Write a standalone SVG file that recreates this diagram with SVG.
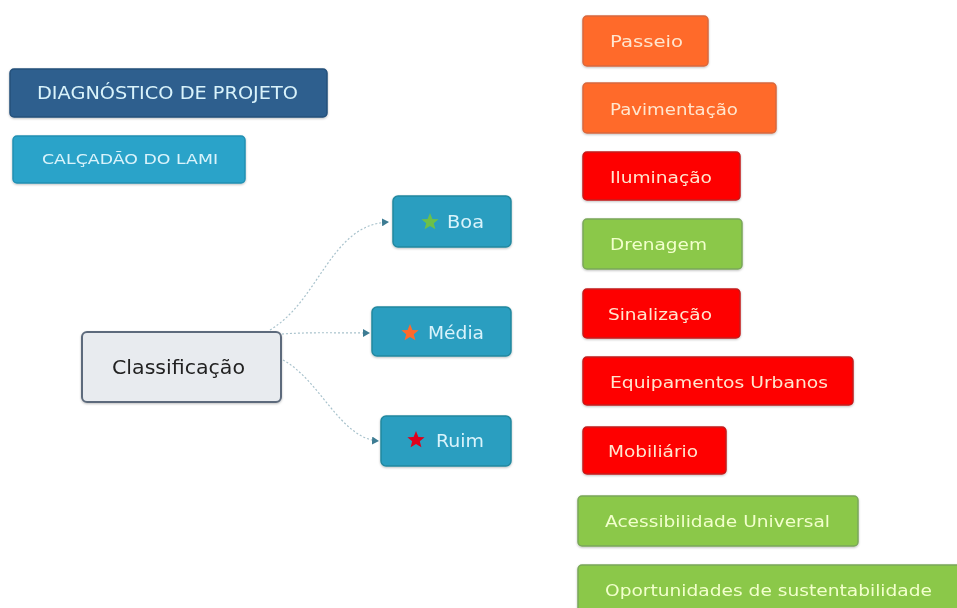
<svg xmlns="http://www.w3.org/2000/svg" width="957" height="608" viewBox="0 0 957 608">
<defs>
<style>
text{font-family:"DejaVu Sans","Liberation Sans",sans-serif;dominant-baseline:central;}
.b{stroke-width:1.5;}
.dk{fill:#2d5e8e;stroke:#24507a;}
.lb{fill:#2aa3c9;stroke:#2290b3;}
.nd{fill:#2a9ec0;stroke:#23889f;}
.or{fill:#ff6b2b;stroke:#d8683c;}
.rd{fill:#fe0000;stroke:#c41a1a;}
.gr{fill:#8bc84a;stroke:#7aa75a;}
.tl{fill:#d9f3fb;font-size:16px;}
.tw{fill:#ffe6cf;font-size:16.5px;}
.tg{fill:#f2ffcc;font-size:16.5px;}
.conn{fill:none;stroke:#a8c2cc;stroke-width:1.2;stroke-dasharray:2 2;}
</style>
<marker id="ah" markerWidth="8" markerHeight="8" refX="6" refY="4" orient="auto" markerUnits="userSpaceOnUse">
<path d="M0,0 L7,4 L0,8 Z" fill="#3d7c93"/>
</marker>
<filter id="sh" x="-5%" y="-10%" width="110%" height="130%">
<feDropShadow dx="0" dy="1" stdDeviation="1" flood-color="#000" flood-opacity="0.25"/>
</filter>
</defs>
<rect width="957" height="608" fill="#ffffff"/>

<g id="connectors">
<path class="conn" d="M270,330 C320,300 330,225 388,222" marker-end="url(#ah)"/>
<path class="conn" d="M282,334 C310,332 340,333 369,333" marker-end="url(#ah)"/>
<path class="conn" d="M283,360 C320,380 340,438 378,441" marker-end="url(#ah)"/>
</g>

<g id="diagnostico" filter="url(#sh)">
<rect class="dk b" x="10" y="69" width="317" height="48" rx="4"/>
<text class="tl" x="37" y="93" style="font-size:17px" textLength="261" lengthAdjust="spacingAndGlyphs">DIAGNÓSTICO DE PROJETO</text>
</g>
<g id="calcadao" filter="url(#sh)">
<rect class="lb b" x="13" y="136" width="232" height="47" rx="4"/>
<text class="tl" x="42" y="159" style="font-size:14px" textLength="176" lengthAdjust="spacingAndGlyphs">CALÇADÃO DO LAMI</text>
</g>

<g id="classificacao" filter="url(#sh)">
<rect x="82" y="332" width="199" height="70" rx="5" fill="#e8ebef" stroke="#5d6b7c" stroke-width="2"/>
<text x="112" y="367" style="font-size:20px;fill:#222" textLength="133" lengthAdjust="spacingAndGlyphs">Classificação</text>
</g>

<g id="boa" filter="url(#sh)">
<rect class="nd b" x="393" y="196" width="118" height="51" rx="5"/>
<polygon points="430,213 432.4,219 438.6,219.3 433.8,223.3 435.4,229.3 430,226 424.6,229.3 426.2,223.3 421.4,219.3 427.6,219" fill="#6cc04a"/>
<text class="tl" x="447" y="222" style="font-size:17px" textLength="37" lengthAdjust="spacingAndGlyphs">Boa</text>
</g>
<g id="media" filter="url(#sh)">
<rect class="nd b" x="372" y="307" width="139" height="49" rx="5"/>
<polygon points="410,324 412.4,330 418.6,330.3 413.8,334.3 415.4,340.3 410,337 404.6,340.3 406.2,334.3 401.4,330.3 407.6,330" fill="#ff6b2b"/>
<text class="tl" x="428" y="333" style="font-size:17px" textLength="56" lengthAdjust="spacingAndGlyphs">Média</text>
</g>
<g id="ruim" filter="url(#sh)">
<rect class="nd b" x="381" y="416" width="130" height="50" rx="5"/>
<polygon points="416,431 418.4,437 424.6,437.3 419.8,441.3 421.4,447.3 416,444 410.6,447.3 412.2,441.3 407.4,437.3 413.6,437" fill="#e0001a"/>
<text class="tl" x="436" y="441" style="font-size:17px" textLength="48" lengthAdjust="spacingAndGlyphs">Ruim</text>
</g>

<g id="passeio" filter="url(#sh)">
<rect class="or b" x="583" y="16" width="125" height="50" rx="4"/>
<text class="tw" x="610" y="41" textLength="73" lengthAdjust="spacingAndGlyphs">Passeio</text>
</g>
<g id="pavimentacao" filter="url(#sh)">
<rect class="or b" x="583" y="83" width="193" height="50" rx="4"/>
<text class="tw" x="610" y="109" textLength="128" lengthAdjust="spacingAndGlyphs">Pavimentação</text>
</g>
<g id="iluminacao" filter="url(#sh)">
<rect class="rd b" x="583" y="152" width="157" height="48" rx="4"/>
<text class="tw" x="610" y="177" textLength="102" lengthAdjust="spacingAndGlyphs">Iluminação</text>
</g>
<g id="drenagem" filter="url(#sh)">
<rect class="gr b" x="583" y="219" width="159" height="50" rx="4"/>
<text class="tg" x="610" y="244" textLength="97" lengthAdjust="spacingAndGlyphs">Drenagem</text>
</g>
<g id="sinalizacao" filter="url(#sh)">
<rect class="rd b" x="583" y="289" width="157" height="49" rx="4"/>
<text class="tw" x="608" y="314" textLength="104" lengthAdjust="spacingAndGlyphs">Sinalização</text>
</g>
<g id="equipamentos" filter="url(#sh)">
<rect class="rd b" x="583" y="357" width="270" height="48" rx="4"/>
<text class="tw" x="610" y="382" textLength="218" lengthAdjust="spacingAndGlyphs">Equipamentos Urbanos</text>
</g>
<g id="mobiliario" filter="url(#sh)">
<rect class="rd b" x="583" y="427" width="143" height="47" rx="4"/>
<text class="tw" x="608" y="451" textLength="90" lengthAdjust="spacingAndGlyphs">Mobiliário</text>
</g>
<g id="acessibilidade" filter="url(#sh)">
<rect class="gr b" x="578" y="496" width="280" height="50" rx="4"/>
<text class="tg" x="605" y="521" textLength="225" lengthAdjust="spacingAndGlyphs">Acessibilidade Universal</text>
</g>
<g id="oportunidades" filter="url(#sh)">
<rect class="gr b" x="578" y="565" width="385" height="50" rx="4"/>
<text class="tg" x="605" y="590" textLength="327" lengthAdjust="spacingAndGlyphs">Oportunidades de sustentabilidade</text>
</g>
</svg>
